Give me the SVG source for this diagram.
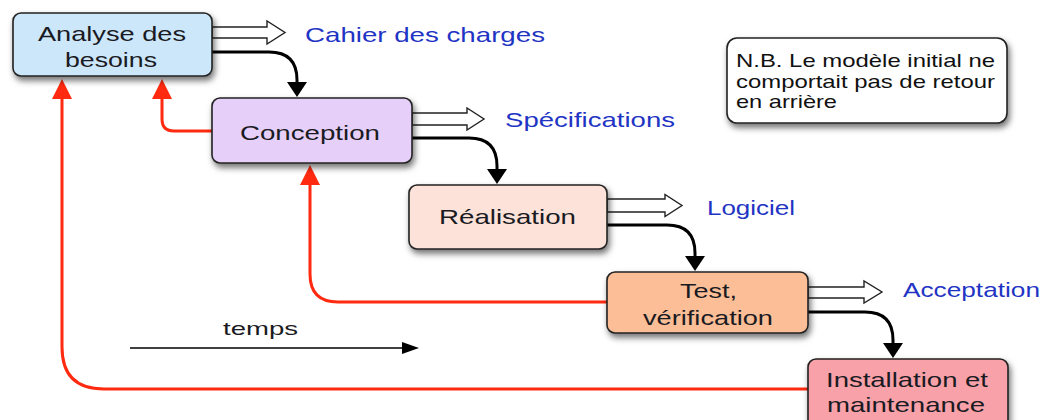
<svg xmlns="http://www.w3.org/2000/svg" width="1048" height="420" viewBox="0 0 1048 420">
  <style>
    .box { stroke: #222; stroke-width: 1.6; filter: url(#shadow); }
    .t { font-family: "Liberation Sans", Arial, sans-serif; font-size: 21px; fill: #1a1a22; text-anchor: middle; }
    .lbl { font-family: "Liberation Sans", Arial, sans-serif; font-size: 21px; fill: #1f34c4; }
    .nb { font-family: "Liberation Sans", Arial, sans-serif; font-size: 19px; fill: #111; }
    .hollow { fill: #fff; stroke: #222; stroke-width: 1.4; stroke-linejoin: miter; }
    .flow { fill: none; stroke: #000; stroke-width: 3; marker-end: url(#blackHead); }
    .back { fill: none; stroke: #ff2a10; stroke-width: 3; marker-end: url(#redHead); }
  </style>
  <defs>
    <filter id="shadow" x="-10%" y="-20%" width="130%" height="160%">
      <feDropShadow dx="2" dy="4" stdDeviation="3" flood-color="#000" flood-opacity="0.55"/>
    </filter>
    <marker id="blackHead" markerUnits="userSpaceOnUse" viewBox="0 0 15 20" markerWidth="15" markerHeight="20" refX="1" refY="10" orient="auto">
      <path d="M0,0 L15,10 L0,20 Z" fill="#000"/>
    </marker>
    <marker id="redHead" markerUnits="userSpaceOnUse" viewBox="0 0 20 20" markerWidth="20" markerHeight="20" refX="1" refY="10" orient="auto">
      <path d="M0,0 L20,10 L0,20 Z" fill="#ff2a10"/>
    </marker>
    <marker id="timeHead" markerUnits="userSpaceOnUse" viewBox="0 0 17 12" markerWidth="17" markerHeight="12" refX="1" refY="6" orient="auto">
      <path d="M0,0 L17,6 L0,12 Z" fill="#000"/>
    </marker>
  </defs>

  <rect width="1048" height="420" fill="#fff"/>

  <g id="connectors">
    <!-- flow arrows -->
    <path class="flow" d="M212,52 H269 Q297,52 297,80 V83"/>
    <path class="flow" d="M412,138 H469 Q497,138 497,166 V170"/>
    <path class="flow" d="M607,225 H667 Q695,225 695,253 V257"/>
    <path class="flow" d="M808,312 H865 Q893,312 893,340 V344"/>
    <!-- feedback arrows -->
    <path class="back" d="M212,131 H174 Q162,131 162,119 V98"/>
    <path class="back" d="M607,302 H338 Q310,302 310,274 V184"/>
    <path class="back" d="M808,389 H104 Q62,389 62,347 V98"/>
    <!-- deliverable arrows -->
    <polygon class="hollow" points="212,27 267,27 267,21 285,32.5 267,44 267,38 212,38"/>
    <polygon class="hollow" points="412,113 467,113 467,108 484,119 467,130 467,125 412,125"/>
    <polygon class="hollow" points="607,199 665,199 665,194.5 682,205.5 665,216.5 665,212 607,212"/>
    <polygon class="hollow" points="808,287 864,287 864,281 882,292 864,303 864,298 808,298"/>
  </g>

  <g id="n-analyse">
    <rect class="box" x="13" y="13" width="199" height="63" rx="8" fill="#cce6fa"/>
    <text class="t" x="112" y="41" textLength="148" lengthAdjust="spacingAndGlyphs">Analyse des</text>
    <text class="t" x="111" y="67" textLength="92" lengthAdjust="spacingAndGlyphs">besoins</text>
  </g>
  <g id="n-conception">
    <rect class="box" x="212" y="98" width="200" height="65" rx="8" fill="#e6d0fa"/>
    <text class="t" x="310" y="140" textLength="140" lengthAdjust="spacingAndGlyphs">Conception</text>
  </g>
  <g id="n-realisation">
    <rect class="box" x="409" y="185" width="198" height="64" rx="8" fill="#fde2d9"/>
    <text class="t" x="507.5" y="224" textLength="137" lengthAdjust="spacingAndGlyphs">Réalisation</text>
  </g>
  <g id="n-test">
    <rect class="box" x="607" y="272" width="201" height="61" rx="8" fill="#fbbe96"/>
    <text class="t" x="708.5" y="298" textLength="57" lengthAdjust="spacingAndGlyphs">Test,</text>
    <text class="t" x="708" y="325" textLength="130" lengthAdjust="spacingAndGlyphs">vérification</text>
  </g>
  <g id="n-installation">
    <rect class="box" x="808" y="359" width="200" height="75" rx="8" fill="#f8a1a8"/>
    <text class="t" x="907" y="387" textLength="162" lengthAdjust="spacingAndGlyphs">Installation et</text>
    <text class="t" x="906" y="412" textLength="158" lengthAdjust="spacingAndGlyphs">maintenance</text>
  </g>

  <g id="labels">
    <text class="lbl" x="305" y="42" textLength="240" lengthAdjust="spacingAndGlyphs">Cahier des charges</text>
    <text class="lbl" x="505" y="127" textLength="170" lengthAdjust="spacingAndGlyphs">Spécifications</text>
    <text class="lbl" x="707" y="215" textLength="88" lengthAdjust="spacingAndGlyphs">Logiciel</text>
    <text class="lbl" x="903" y="297" textLength="137" lengthAdjust="spacingAndGlyphs">Acceptation</text>
  </g>

  <g id="note">
    <rect class="box" x="727" y="38" width="280" height="85" rx="10" fill="#fff"/>
    <text class="nb" x="736" y="67" textLength="259" lengthAdjust="spacingAndGlyphs">N.B. Le modèle initial ne</text>
    <text class="nb" x="736" y="88" textLength="259" lengthAdjust="spacingAndGlyphs">comportait pas de retour</text>
    <text class="nb" x="736" y="108" textLength="101" lengthAdjust="spacingAndGlyphs">en arrière</text>
  </g>

  <g id="time">
    <text class="t" x="260.5" y="335" textLength="75" lengthAdjust="spacingAndGlyphs" style="font-size:19px">temps</text>
    <path d="M130,348 H403" stroke="#000" stroke-width="1.6" fill="none" marker-end="url(#timeHead)"/>
  </g>
</svg>
